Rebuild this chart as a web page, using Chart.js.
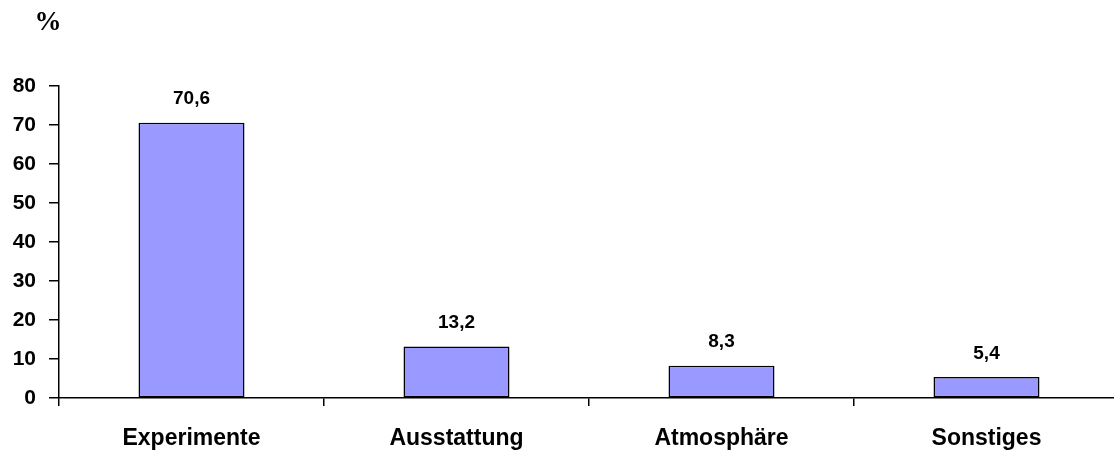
<!DOCTYPE html>
<html>
<head>
<meta charset="utf-8">
<script src="https://cdn.jsdelivr.net/npm/chart.js@4"></script>
<style>
  body { margin: 0; background: #fff; overflow: hidden; }
  #wrap { width: 1121px; height: 452px; }
</style>
</head>
<body>
<div id="wrap"><canvas id="myChart"></canvas></div>
<script>
const categories = ["Experimente", "Ausstattung", "Atmosphäre", "Sonstiges"];
const percentValues = [70.6, 13.2, 8.3, 5.4];
const yTicks = [0, 10, 20, 30, 40, 50, 60, 70, 80];

const sansFont = "'Liberation Sans', Arial, sans-serif";

// values above the bars, with German decimal comma
const valueLabels = {
  id: 'valueLabels',
  afterDatasetsDraw(chart) {
    const ctx = chart.ctx;
    const meta = chart.getDatasetMeta(0);
    ctx.save();
    ctx.fillStyle = '#000';
    ctx.font = "bold 19px " + sansFont;
    ctx.textAlign = 'center';
    ctx.textBaseline = 'bottom';
    meta.data.forEach((bar, i) => {
      const txt = percentValues[i].toFixed(1).replace('.', ',');
      ctx.fillText(txt, bar.x, bar.y - 14);
    });
    ctx.restore();
  }
};

// "%" unit in the top-left corner
const unitLabel = {
  id: 'unitLabel',
  afterDraw(chart) {
    const ctx = chart.ctx;
    ctx.save();
    ctx.fillStyle = '#000';
    ctx.font = "bold 27px 'Liberation Serif', 'Times New Roman', serif";
    ctx.textAlign = 'center';
    ctx.textBaseline = 'middle';
    ctx.fillText('%', 48, 23);
    ctx.restore();
  }
};

new Chart("myChart", {
  type: "bar",
  data: {
    labels: categories,
    datasets: [{
      data: percentValues,
      backgroundColor: '#9999FF',
      borderColor: '#000000',
      borderWidth: 1.5,
      borderSkipped: false,
      categoryPercentage: 1.0,
      barPercentage: 0.4
    }]
  },
  options: {
    responsive: true,
    maintainAspectRatio: false,
    animation: false,
    layout: { padding: { top: 86, right: 2, left: 0, bottom: 0 } },
    plugins: {
      legend: { display: false },
      tooltip: { enabled: false }
    },
    scales: {
      x: {
        afterFit(scale) { scale.height = 54; },
        grid: {
          offset: true,
          drawOnChartArea: false,
          drawTicks: true,
          tickLength: 8,
          color: '#000',
          lineWidth: 1.5
        },
        border: { color: '#000', width: 1.5 },
        ticks: {
          color: '#000',
          padding: 19,
          font: { family: sansFont, size: 23, weight: 'bold' }
        }
      },
      y: {
        min: 0,
        max: 80,
        afterFit(scale) { scale.width = 59; },
        afterBuildTicks(scale) { scale.ticks = yTicks.map(v => ({ value: v })); },
        grid: {
          drawOnChartArea: false,
          drawTicks: true,
          tickLength: 10,
          color: '#000',
          lineWidth: 1.5
        },
        border: { color: '#000', width: 1.5 },
        ticks: {
          color: '#000',
          padding: 13,
          font: { family: sansFont, size: 21, weight: 'bold' }
        }
      }
    }
  },
  plugins: [valueLabels, unitLabel]
});
</script>
</body>
</html>
